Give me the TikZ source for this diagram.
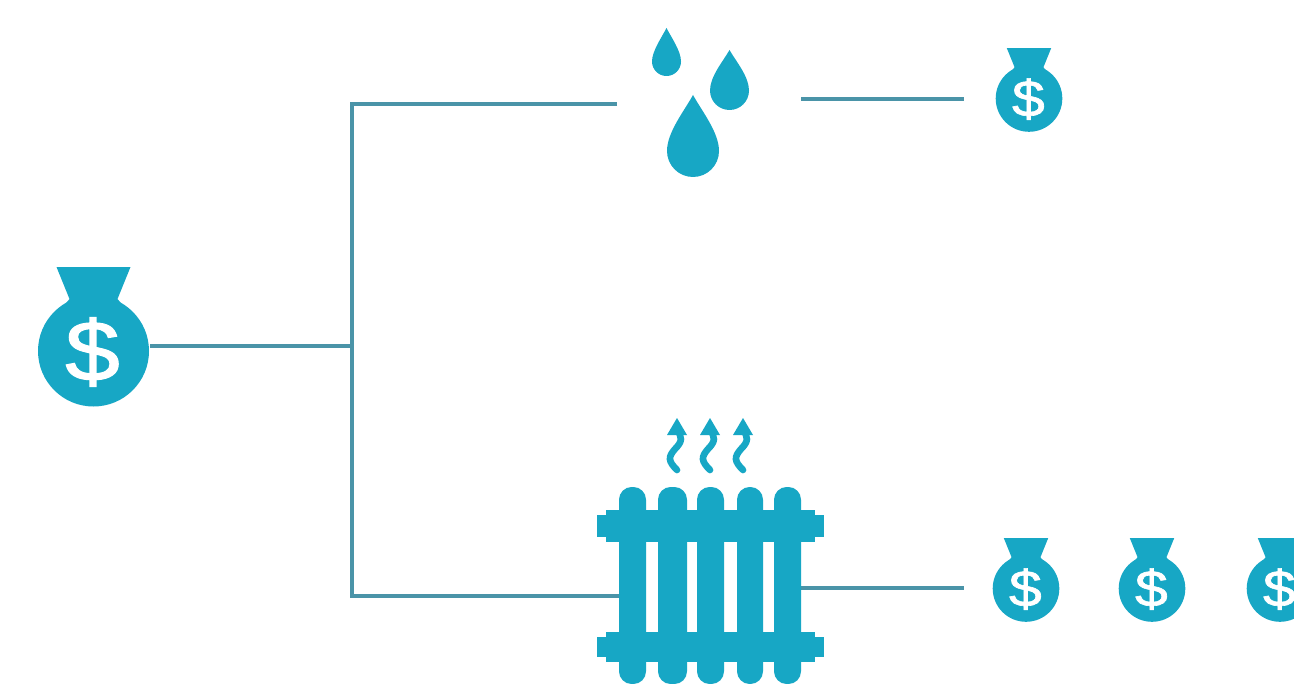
\documentclass[tikz,border=0pt]{standalone}
\usepackage{fontspec}
\setmainfont{Liberation Sans}
\newfontfamily\dollarfont[FakeBold=1.2]{Liberation Sans}
\definecolor{iconblue}{HTML}{17A7C5}
\definecolor{linkteal}{HTML}{4A94A8}
\tikzset{
  x=0.75pt,y=-0.75pt,
  iconfill/.style={fill=iconblue,draw=none},
  connector/.style={draw=linkteal,line width=3pt,line cap=butt,line join=miter},
  steamline/.style={draw=iconblue,line width=5pt,line cap=round},
  pics/moneybag/.style={code={
    \path[iconfill] (-37,-84) -- (37,-84) -- (24,-52) -- (29,-46) -- (-29,-46) -- (-24,-52) -- cycle;
    \path[iconfill] (0,0) circle[radius=55.5];
    \node[text=white,inner sep=0pt,transform shape,font=\dollarfont\fontsize{64}{64}\selectfont,xscale=1.15] (-dollar) at (-1,1) {\$};
  }},
  pics/droplet/.style args={#1/#2}{code={
    \path[iconfill] (0,-#2) .. controls (#1*0.33,-#2*0.72) and (#1,-#1*0.72) .. (#1,0)
      arc[start angle=0,end angle=180,radius=#1]
      .. controls (-#1,-#1*0.72) and (-#1*0.33,-#2*0.72) .. cycle;
  }},
  pics/steam/.style={code={
    \path[steamline] (0,52) .. controls (-9,43) and (-9,39) .. (-2,31) .. controls (6,23) and (5,19) .. (0,12);
    \path[iconfill] (0,0) -- (10,17) -- (-10,17) -- cycle;
  }},
}
\begin{document}
\begin{tikzpicture}
\clip (0,0) rectangle (1294,684);
\path[fill=white] (0,0) rectangle (1294,684);

% connector anchors
\coordinate (srcOut) at (150,346);
\coordinate (fork) at (352,346);
\coordinate (forkTop) at (352,104);
\coordinate (forkBot) at (352,596);
\coordinate (dropIn) at (617,104);
\coordinate (radIn) at (619,596);
\coordinate (dropOut) at (801,99);
\coordinate (bagTopIn) at (964,99);
\coordinate (radOut) at (801,588);
\coordinate (bagBotIn) at (964,588);

\draw[connector] (srcOut) -- (fork);
\draw[connector] (dropIn) -- (forkTop) -- (forkBot) -- (radIn);
\draw[connector] (dropOut) -- (bagTopIn);
\draw[connector] (radOut) -- (bagBotIn);

% money bags
\pic (bagL) at (93.5,351) {moneybag};
\pic[scale=0.6] (bagT) at (1029,98.5) {moneybag};
\pic[scale=0.6] (bagA) at (1026,588.5) {moneybag};
\pic[scale=0.6] (bagB) at (1152,588.5) {moneybag};
\pic[scale=0.6] (bagC) at (1280,588.5) {moneybag};

% droplets (origin = centre of the bulb)
\pic at (666.5,61.5) {droplet={14.5/33.5}};
\pic at (729.5,90.5) {droplet={19.5/40.5}};
\pic at (693,151) {droplet={26/56}};

% steam
\pic at (677,418) {steam};
\pic at (710,418) {steam};
\pic at (743,418) {steam};

% radiator
\foreach \xa/\xb in {619/646,658/687,697/724,737/763,774/801}{
  \path[iconfill,rounded corners=9.5pt] (\xa,487) rectangle (\xb,684);
}
\path[iconfill] (606,510) rectangle (815,542);
\path[iconfill] (597,515) rectangle (824,537);
\path[iconfill] (606,632) rectangle (815,662);
\path[iconfill] (597,637) rectangle (824,657);
\end{tikzpicture}
\end{document}
